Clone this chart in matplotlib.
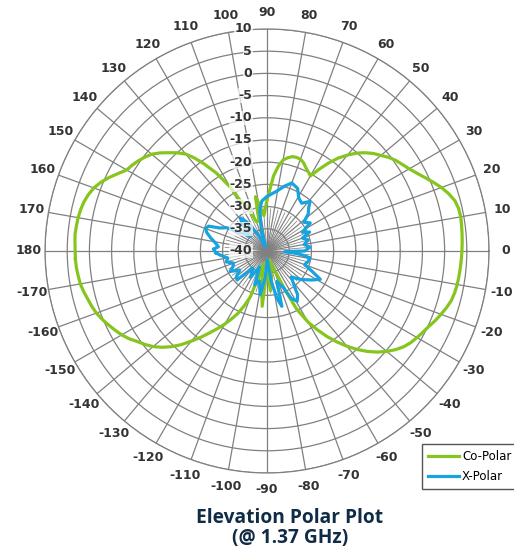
import numpy as np
import matplotlib
matplotlib.use("Agg")
import matplotlib.pyplot as plt

# angles in degrees, gain in dB
co_angles = [-177.5, -175, -172.5, -170, -167.5, -165, -162.5, -160, -157.5, -155, -152.5, -150,
             -147.5, -145, -142.5, -140, -137.5, -135, -132.5, -130, -127.5, -125, -122.5, -120,
             -117.5, -115, -112.5, -110, -108, -105, -100, -95, -90, -85, -80, -75, -70, -65, -63,
             -60, -57.5, -55, -52.5, -50, -47.5, -45, -42.5, -40, -37.5, -35, -32.5, -30, -27.5,
             -25, -22.5, -20, -17.5, -15, -12.5, -10, -7.5, -5, -2.5,
             0, 2.5, 5, 7.5, 10, 12.5, 15, 17.5, 20, 22.5, 25, 27.5, 30, 32.5, 35, 37.5, 40, 42.5,
             45, 47.5, 50, 52.5, 55, 57.5, 60, 62, 65, 67.5, 70, 72.5, 75, 77.5, 80, 82.5,
             85, 90, 95, 100, 102, 105, 110, 114, 118, 120, 123, 126, 128, 130, 132.5, 135, 137.5,
             140, 142.5, 145, 147.5, 150, 152.5, 155, 157.5, 160, 162.5, 165, 167.5, 170, 172.5,
             175, 177.5, 180]
co_polar = [3.2, 3.1, 2.9, 2.7, 2.3, 1.8, 1.4, 0.9, 0.2, -0.6, -1.4, -2.2,
            -3.2, -4.4, -5.4, -6.5, -7.9, -9.5, -11.4, -13.5, -15.5, -17.5, -19.3, -21.0,
            -22.8, -24.5, -26.7, -29.0, -34.0, -37.0, -33.0, -27.5, -36.0, -31.0, -34.0, -38.0, -36.0, -30.0, -25.3,
            -21.5, -19.0, -16.5, -14.2, -12.0, -9.9, -8.0, -6.3, -4.8, -3.5, -2.4, -1.6, -1.0, -0.4,
            0.2, 1.0, 1.7, 2.4, 3.0, 3.3, 3.5, 3.6, 3.7, 3.8,
            3.9, 4.0, 4.1, 4.2, 4.3, 4.2, 3.8, 2.9, 1.8, 0.5, -0.8, -2.0, -3.0, -3.8, -4.5, -5.4, -6.5, -7.5,
            -8.7, -10.1, -11.8, -13.6, -15.8, -18.2, -20.5, -20.0, -19.3, -18.5, -18.0, -17.9, -18.0, -18.5, -19.2, -20.8,
            -23.0, -28.5, -32.0, -29.0, -27.5, -33.0, -33.0, -29.0, -27.0, -23.3, -19.1, -15.6, -13.4, -11.5, -10.0, -8.7, -7.3,
            -6.1, -5.3, -4.6, -4.0, -3.5, -2.2, -0.8, 0.5, 1.5, 2.2, 2.7, 3.0, 3.2, 3.3,
            3.4, 3.3, 3.2]

x_angles = [-178, -175, -170, -165, -160, -155, -151, -145, -140, -136, -130, -122, -115, -110,
            -104, -99, -94, -88, -82, -78, -75, -72, -66, -63, -59, -55, -53, -47, -40, -33,
            -28, -24, -20, -15, -9, -5, -2,
            0, 5, 10, 15, 20, 24, 28, 33, 38, 42, 46, 49, 54, 59, 64, 70, 75, 81, 90, 96,
            100, 105, 110, 118, 125, 129, 133, 138, 145, 150, 154, 157, 160, 163, 167, 171,
            175, 178]
x_polar = [-28.5, -29.4, -31.0, -30.5, -32.0, -31.5, -30.5, -32.5, -31.0, -30.6, -35.0, -33.0, -36.0, -31.9,
           -33.0, -30.0, -34.0, -38.0, -33.0, -29.0, -27.1, -32.8, -31.0, -28.0, -26.8, -28.0, -29.5, -32.0, -30.0, -28.0,
           -26.4, -29.0, -31.0, -30.5, -30.2, -33.0, -36.0,
           -31.5, -30.3, -31.5, -30.4, -31.5, -29.5, -31.0, -28.4, -29.5, -27.5, -26.5, -25.2, -26.7, -26.1, -24.3, -23.7,
           -24.9, -26.4, -27.7, -28.7,
           -30.6, -35.0, -39.0, -36.0, -32.0, -30.4, -32.0, -35.0, -33.0, -29.5, -28.2, -25.7, -25.3, -25.8, -27.0, -28.2,
           -29.0, -27.9]

r_ticks = list(range(-40, 11, 5))
theta_ticks = list(range(0, 360, 10))
theta_labels = [str(a if a <= 180 else a - 360) for a in theta_ticks]

green = "#86c51e"
blue = "#17a3df"
grid_col = "#808080"

fig = plt.figure(figsize=(5.14, 5.48), dpi=100)
ax = fig.add_axes([0.0876, 0.1369, 0.8638, 0.8102], projection="polar")

ax.set_ylim(-40, 10)
ax.set_yticks(r_ticks[1:])
ax.set_yticklabels([])
ax.set_xticks(np.radians(theta_ticks))
ax.set_xticklabels(theta_labels, fontsize=9, fontweight="bold", color="#333333")
ax.tick_params(axis="x", pad=1.5)
ax.grid(True, color=grid_col, linewidth=0.9)
ax.spines["polar"].set_color(grid_col)
ax.spines["polar"].set_linewidth(0.9)

# extra spokes near the centre
for a in range(5, 360, 10):
    ax.plot([np.radians(a)] * 2, [-40, -30.5], color=grid_col, linewidth=0.55, zorder=1)

# close the loops
co_t = np.radians(co_angles + [co_angles[0]])
co_r = co_polar + [co_polar[0]]
x_t = np.radians(x_angles + [x_angles[0]])
x_r = x_polar + [x_polar[0]]

ax.plot(co_t, co_r, color=green, linewidth=2.3, label="Co-Polar", zorder=3)
ax.plot(x_t, x_r, color=blue, linewidth=2.3, label="X-Polar", zorder=3)

# radial labels along the 90 spoke
for r in r_ticks:
    ax.annotate(str(r), xy=(np.pi / 2, r), xytext=(-15, 0), textcoords="offset pixels",
                ha="right", va="center", fontsize=9, fontweight="bold", color="#333333",
                bbox=dict(boxstyle="square,pad=0.05", fc="white", ec="none", alpha=0.7),
                zorder=5, annotation_clip=False)

leg = fig.legend(loc="upper left", bbox_to_anchor=(422 / 514, 1 - 444 / 548),
                 fancybox=False, edgecolor="#555555", framealpha=1,
                 prop={"size": 8.5}, handlelength=2.6, handletextpad=0.3,
                 borderpad=0.5, labelspacing=0.6, borderaxespad=0)
leg.get_frame().set_linewidth(1.0)

fig.text(290 / 514, 1 - 528 / 548, "Elevation Polar Plot\n(@ 1.37 GHz)", ha="center", va="center",
         fontsize=13.8, fontweight="bold", family="Open Sans", color="#0f2b46", linespacing=1.0)

fig.savefig("out.png", dpi=100)
